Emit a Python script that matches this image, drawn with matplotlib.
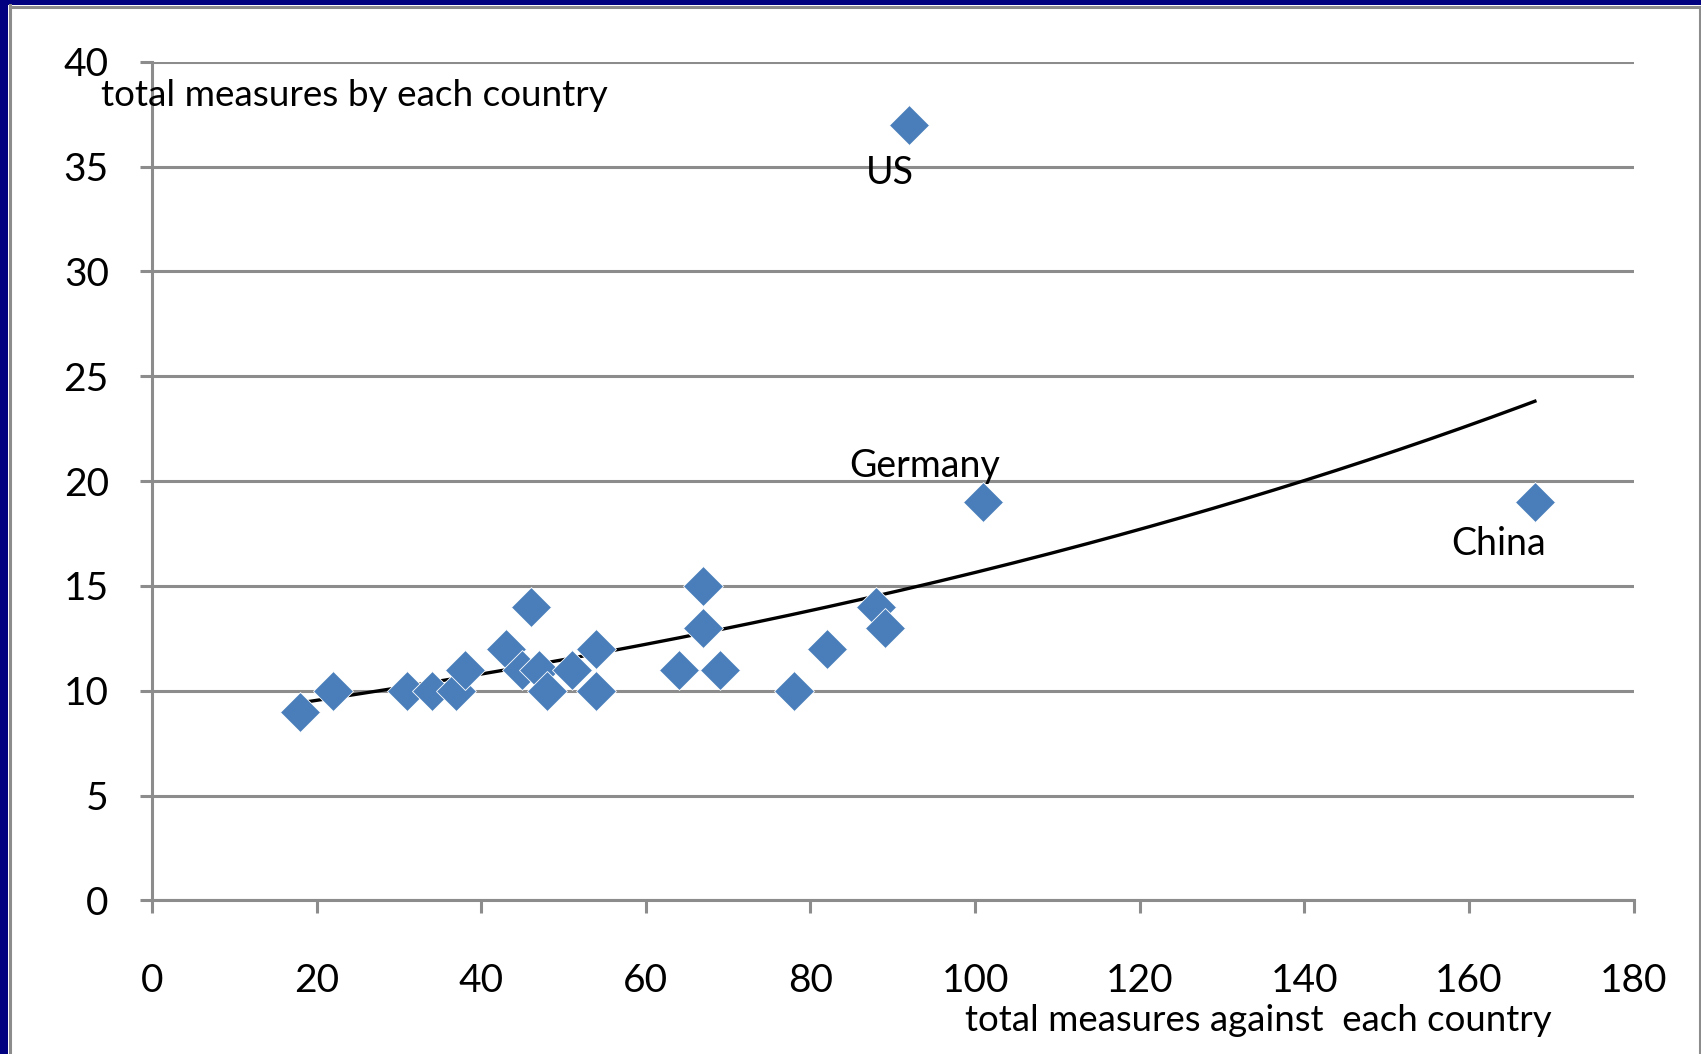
import numpy as np
import matplotlib
matplotlib.use("Agg")
import matplotlib.pyplot as plt
from matplotlib.patches import Rectangle
from matplotlib.lines import Line2D

plt.rcParams['font.family'] = ['Lato', 'DejaVu Sans']

# total measures against each country vs. total measures by each country
measures_against = [18, 22, 31, 34, 37, 38, 43, 45, 46, 47, 48, 51, 54, 54,
                    64, 67, 67, 69, 78, 82, 88, 89, 92, 101, 168]
measures_by = [9, 10, 10, 10, 10, 11, 12, 11, 14, 11, 10, 11, 12, 10,
               11, 15, 13, 11, 10, 12, 14, 13, 37, 19, 19]

labelled = {"US": (92, 37), "Germany": (101, 19), "China": (168, 19)}
label_offsets = {"US": (-14, -35), "Germany": (-42, 26), "China": (-26, -30)}

x_ticks = [0, 20, 40, 60, 80, 100, 120, 140, 160, 180]
y_ticks = [0, 5, 10, 15, 20, 25, 30, 35, 40]

W, H = 1701, 1054
fig = plt.figure(figsize=(W / 100, H / 100), dpi=100)
fig.patch.set_facecolor("white")

# slide frame: navy band along top and left, thin grey rules inside it
navy = "#000080"
fig.patches.append(Rectangle((0, 0), 8 / W, 1, transform=fig.transFigure,
                             facecolor=navy, edgecolor="none", zorder=0))
fig.patches.append(Rectangle((0, 1 - 5 / H), 1, 5 / H, transform=fig.transFigure,
                             facecolor=navy, edgecolor="none", zorder=0))
frame_grey = "#8c8c8c"
fig.lines.append(Line2D([9.5 / W, 9.5 / W], [0, 1 - 5 / H], transform=fig.transFigure,
                        color=frame_grey, lw=2.2))
fig.lines.append(Line2D([9.5 / W, 1], [1 - 7 / H, 1 - 7 / H], transform=fig.transFigure,
                        color=frame_grey, lw=2.2))
fig.lines.append(Line2D([1 - 1.5 / W, 1 - 1.5 / W], [0, 1 - 7 / H], transform=fig.transFigure,
                        color=frame_grey, lw=2.2))

left, right = 151.9 / W, 1633.7 / W
bottom, top = (H - 900.4) / H, (H - 61.8) / H
ax = fig.add_axes([left, bottom, right - left, top - bottom])
ax.set_facecolor("none")

grid_grey = "#8c8c8c"
ax.set_xlim(0, 180)
ax.set_ylim(0, 40)
ax.set_xticks(x_ticks)
ax.set_yticks(y_ticks)
ax.yaxis.grid(True, color=grid_grey, lw=2.2)
ax.set_axisbelow(True)
for s in ("top", "right"):
    ax.spines[s].set_visible(False)
for s in ("left", "bottom"):
    ax.spines[s].set_color(grid_grey)
    ax.spines[s].set_linewidth(2.2)
ax.tick_params(axis="both", direction="out", length=9, width=2.2, color=grid_grey,
               labelsize=28, labelcolor="black")
ax.tick_params(axis="x", pad=36)
ax.tick_params(axis="y", pad=22)

# exponential trendline fitted on log(y)
xa = np.array(measures_against, dtype=float)
ya = np.array(measures_by, dtype=float)
b, ln_a = np.polyfit(xa, np.log(ya), 1)
xt = np.linspace(xa.min(), xa.max(), 200)
ax.plot(xt, np.exp(ln_a) * np.exp(b * xt), color="black", lw=2.4, zorder=3)

ax.plot(measures_against, measures_by, linestyle="none", marker="D",
        markersize=20.5, color="#4a7ebb", markeredgecolor="white",
        markeredgewidth=0.6, zorder=4, clip_on=False)

for name, (px, py) in labelled.items():
    ax.annotate(name, xy=(px, py), xytext=label_offsets[name], textcoords="offset points",
                ha="center", va="center", fontsize=27, color="black", zorder=5)

fig.text(100.9 / W, 1 - 95.5 / H, "total measures by each country", ha="left",
         va="center", fontsize=26.6, color="black")
fig.text(1258.8 / W, 1 - 1020.8 / H, "total measures against  each country", ha="center",
         va="center", fontsize=26.4, color="black")

fig.savefig("out.png", dpi=100, facecolor=fig.get_facecolor())
